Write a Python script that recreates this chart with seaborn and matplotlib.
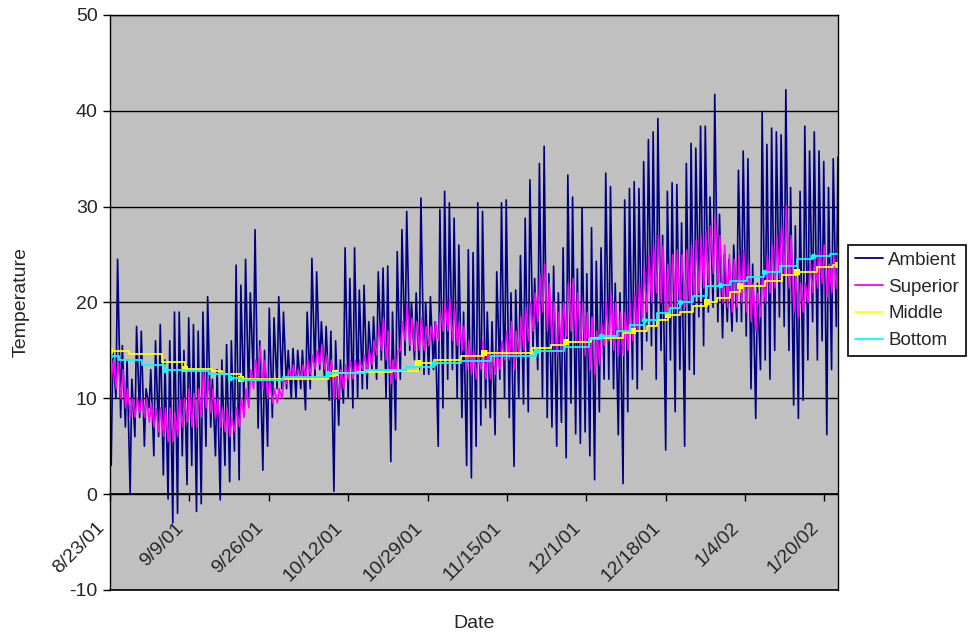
import numpy as np
import pandas as pd
import matplotlib
matplotlib.use("Agg")
import matplotlib.pyplot as plt
import matplotlib.transforms as mtransforms
import seaborn as sns

# day 0 = 8/23/01, one max and one min reading per day
amb_max = [15, 24.5, 15.5, 14, 12, 17.5, 17, 11, 13, 16, 17.7, 14, 16, 19, 19, 15, 18.4, 17.7, 17, 19, 20.6, 12, 13, 14, 15.6,
           16, 23.9, 21.8, 24.5, 21, 27.6, 16, 15, 19.4, 18.4, 20.6, 19, 15, 15.2, 15, 15, 19, 24.6, 23.2, 18, 17.5, 17, 16, 14, 25.7, 22.5,
           25.7, 21.3, 21.8, 18, 18.5, 23.2, 23.6, 23.8, 19, 25.3, 27.6, 29.5, 20, 21, 30.9, 20, 20.6, 18, 29.7, 31.6, 30.4, 28.8, 26, 19, 25.5, 25.2, 30.4,
           29.5, 19, 18, 23.2, 30.4, 30.7, 21, 21.3, 24.9, 28.8, 32.8, 22.5, 34.5, 36.3, 23, 23.8, 21, 25.7, 33.3, 31, 23.5, 29.9, 23, 27.8, 24.3, 25.7,
           33.5, 32.1, 22, 21, 30.7, 31.9, 32.6, 31.9, 34.7, 37, 37.8, 39.2, 27, 31.6, 32.5, 32.3, 28.3, 34.5, 36.6, 36.1, 38.4, 38.4, 31, 41.7, 29.2,
           25, 24.5, 26, 33.8, 35.8, 35, 24, 22, 39.8, 36.5, 38.2, 37.8, 37.5, 42.2, 32, 28, 31.6, 38.4, 35.8, 37.8, 35.8, 34.7, 32, 35, 35.2]
amb_min = [3, 10, 8, 7, 0, 6, 8, 5, 9, 4, 6, 2, -0.5, -3, -2, 4, 1, 3, -1.8, -1, 5, 7, 4, -0.6, 3,
           1.3, 4.5, 1.5, 9, 10, 12, 6.9, 2.5, 5, 8, 11, 11, 11, 10, 10, 11, 8.8, 11, 12, 13, 12, 9.8, 0.3, 7.2, 9.5, 10,
           9, 10, 11, 11, 13, 12, 14, 10, 3.4, 6.7, 12, 14.5, 15, 14, 13, 12.5, 12.5, 13, 5, 9, 12, 13, 10, 8, 3, 1.7, 5,
           7.2, 9, 8, 6.2, 12, 10, 8, 2.9, 10, 9.4, 8.6, 15, 13, 10, 8, 7, 5, 7.5, 3.8, 9.5, 6.3, 5.3, 6.5, 4, 1.5, 8.6,
           12, 12, 11, 6.2, 1.1, 8.6, 12, 11, 13, 16, 15.5, 12, 15, 4.6, 14, 8.6, 13, 5, 13, 12.5, 18.5, 15.5, 19, 19.5, 18,
           16.3, 18, 17, 18, 18, 16.5, 11, 7.9, 13, 14, 12, 15, 18.5, 17.5, 15, 9.3, 7.9, 9.8, 14, 18, 14, 16, 6.2, 13, 17.5]

sup_hi = [14, 14, 13, 11, 10, 10, 10, 10, 9.5, 9, 9, 9, 9, 8.5, 10, 10, 11, 10.5, 11, 13, 12, 11, 10, 9, 9,
          8, 9, 10, 11, 13, 14, 15.5, 14, 12, 11, 11, 12, 13, 13.5, 13, 13.5, 14, 14.5, 15, 15.6, 14.5, 14, 13, 13, 13.5, 14,
          14, 14, 14.5, 15, 16, 17.5, 18.4, 17, 14, 15, 18, 19.8, 18.4, 18, 18.4, 17.5, 17.5, 18, 19, 20, 20.5, 19.5, 18, 17.5, 16, 15, 14.5,
          16, 15, 14.5, 15, 16, 17, 18, 17, 18.5, 19.5, 20, 21, 23, 24, 22, 20, 19, 20, 22, 22.5, 21, 20, 19, 18.5, 17, 18,
          20, 21, 20, 19, 19, 20, 21, 22, 23.5, 25, 26, 27, 26, 24, 25, 25.5, 25, 25.5, 26, 26.5, 27, 27.5, 28, 29, 27,
          26, 25, 24.5, 25, 25.5, 24, 22, 21, 23, 25, 26, 27, 28, 30, 27, 23, 22, 22, 24, 25, 25.5, 26, 24, 25, 26]
sup_lo = [12, 11, 10, 9, 8, 8, 8.5, 8, 7.5, 7, 6.5, 6, 5.5, 5.5, 6, 7, 7.5, 7, 7, 8, 9, 8.5, 8, 7, 6.5,
          6, 6.5, 7, 8, 9, 11, 12, 11, 10, 9.5, 9.5, 10, 11.5, 12, 12, 12, 12, 12.5, 13, 13.5, 13, 12, 10, 10, 11, 12,
          12, 12.5, 13, 13, 13.5, 14.5, 15, 14, 11.5, 12, 15, 16, 15.5, 15, 15, 15, 15.5, 16, 16, 17, 17, 16, 15.5, 15, 13, 12.5, 12,
          13, 12, 12, 12.5, 13, 14, 14, 13, 14.5, 15, 16, 17, 18, 19, 17, 15.5, 14.5, 15, 16.5, 17, 16, 15.5, 14.5, 13, 12.5, 13.5,
          15.5, 16, 15, 14.5, 14.5, 15, 16, 17, 18, 19, 20, 21, 20, 18.5, 19, 19.5, 19, 19.5, 20, 20.5, 21, 21.5, 22, 23, 22,
          20, 19.5, 19, 19.5, 20, 19, 18, 17, 18.5, 20, 21, 21.5, 22.5, 23, 21.5, 19, 18.5, 19, 20, 21, 21.5, 22, 20.5, 21, 21.5]

# middle / bottom readings change in steps
mid_day = [0, 4, 10.9, 15.8, 21.5, 23.6, 27.7, 35.8, 45.9, 47.5, 52.2, 59.6, 64.9, 68.4, 74, 78.9, 89.1, 93, 96.2, 101.4,
           108.3, 110.4, 113.3, 115.4, 117.8, 120.3, 123.1, 126, 128.1, 130.8, 132.9, 138.2, 141.7, 144.9, 149.1, 152.6]
mid_val = [14.9, 14.6, 13.8, 13.1, 12.8, 12.5, 12.0, 12.0, 12.3, 12.6, 12.7, 12.9, 13.7, 14.0, 14.4, 14.7, 15.2, 15.6, 15.9, 16.3,
           16.8, 17.0, 17.5, 18.2, 18.7, 19.0, 19.6, 20.1, 20.5, 21.1, 21.7, 22.2, 22.9, 23.2, 23.7, 23.9]
bot_day = [0, 1.8, 6.7, 11.6, 15.8, 20.8, 25.4, 27.7, 36.5, 46, 54, 62.4, 68.4, 74, 80.3, 89.8, 95.8, 101.1, 103.5, 106.9,
           109.7, 112.6, 115.4, 118.2, 120.3, 123.1, 126, 128.7, 130.8, 134.3, 137.9, 141.4, 144.9, 148.4, 151.9]
bot_val = [14.4, 14.0, 13.5, 13.0, 12.8, 12.5, 12.1, 11.9, 12.2, 12.6, 13.0, 13.3, 13.7, 13.9, 14.4, 14.9, 15.4, 16.2, 16.5, 17.0,
           17.7, 18.2, 18.9, 19.4, 20.1, 20.7, 21.7, 21.8, 22.2, 22.7, 23.2, 23.8, 24.5, 24.9, 25.1]

tick_days = [0, 16.75, 33.5, 50.25, 67, 83.75, 100.5, 117.25, 134, 150.75]
tick_labels = ["8/23/01", "9/9/01", "9/26/01", "10/12/01", "10/29/01",
               "11/15/01", "12/1/01", "12/18/01", "1/4/02", "1/20/02"]
x_end = 153.6


def daily(lo, hi, t_lo, t_hi):
    """Interleave daily low/high readings into one series."""
    d = np.arange(len(lo))
    t = np.column_stack([d + t_lo, d + t_hi]).ravel()
    v = np.column_stack([lo, hi]).ravel()
    return pd.DataFrame({"day": t, "temp": v})


def steps(days, vals):
    return pd.DataFrame({"day": days + [x_end], "temp": vals + [vals[-1]]})


sns.set_theme(style="ticks")
plt.rcParams["font.family"] = ["Liberation Sans", "DejaVu Sans"]
plt.rcParams["axes.unicode_minus"] = False

fig = plt.figure(figsize=(9.71, 6.35), dpi=100)
ax = fig.add_axes([0.1133, 0.0709, 0.7497, 0.9055])
ax.set_facecolor("#c0c0c0")

sns.lineplot(data=daily(amb_min, amb_max, 0.25, 0.6), x="day", y="temp", ax=ax,
             color="#000080", lw=1.2, label="Ambient", estimator=None, sort=False)
sns.lineplot(data=daily(sup_lo, sup_hi, 0.3, 0.7), x="day", y="temp", ax=ax,
             color="#ff00ff", lw=1.1, label="Superior", estimator=None, sort=False)
sns.lineplot(data=steps(mid_day, mid_val), x="day", y="temp", ax=ax, color="#ffff00",
             lw=1.3, drawstyle="steps-post", marker="s", markersize=4, markevery=3,
             markeredgewidth=0, label="Middle", estimator=None, sort=False)
sns.lineplot(data=steps(bot_day, bot_val), x="day", y="temp", ax=ax, color="#00ffff",
             lw=1.3, drawstyle="steps-post", marker="o", markersize=4, markevery=3,
             markeredgewidth=0, label="Bottom", estimator=None, sort=False)

ax.set_xlim(0, x_end)
ax.set_ylim(-10, 50)
ax.set_yticks(range(-10, 51, 10))
ax.grid(axis="y", color="black", lw=1)
ax.grid(axis="x", visible=False)
for s in ["left", "right", "top"]:
    ax.spines[s].set_color("black")
    ax.spines[s].set_linewidth(1)
ax.spines["bottom"].set_position(("data", 0))
ax.spines["bottom"].set_color("black")
ax.axhline(-10, color="black", lw=1.2, clip_on=False)

ax.set_xticks(tick_days, tick_labels, rotation=45, ha="right", rotation_mode="anchor")
ax.tick_params(axis="x", direction="out", length=5, width=1, color="black", pad=13, labelsize=14)
ax.tick_params(axis="y", direction="out", length=5, width=1, color="black", pad=4, labelsize=14)
shift = mtransforms.ScaledTranslation(-14 / 100, 0, fig.dpi_scale_trans)
for lab in ax.get_xticklabels():
    lab.set_transform(lab.get_transform() + shift)

ax.set_xlabel("Date", fontsize=14)
ax.xaxis.set_label_coords(0.5, -0.043)
ax.set_ylabel("Temperature", fontsize=14)
ax.yaxis.set_label_coords(-0.111, 0.5)

leg = ax.legend(loc="upper left", bbox_to_anchor=(0.8733, 0.6142), bbox_transform=fig.transFigure,
                borderaxespad=0, fontsize=13.5, frameon=True, fancybox=False, edgecolor="black",
                handlelength=1.5, handletextpad=0.3, labelspacing=0.52, borderpad=0.35, framealpha=1)
leg.get_frame().set_linewidth(1.2)
for h in leg.get_lines():
    h.set_marker("")
    h.set_linewidth(1.3)

fig.savefig("out.png", dpi=100)
